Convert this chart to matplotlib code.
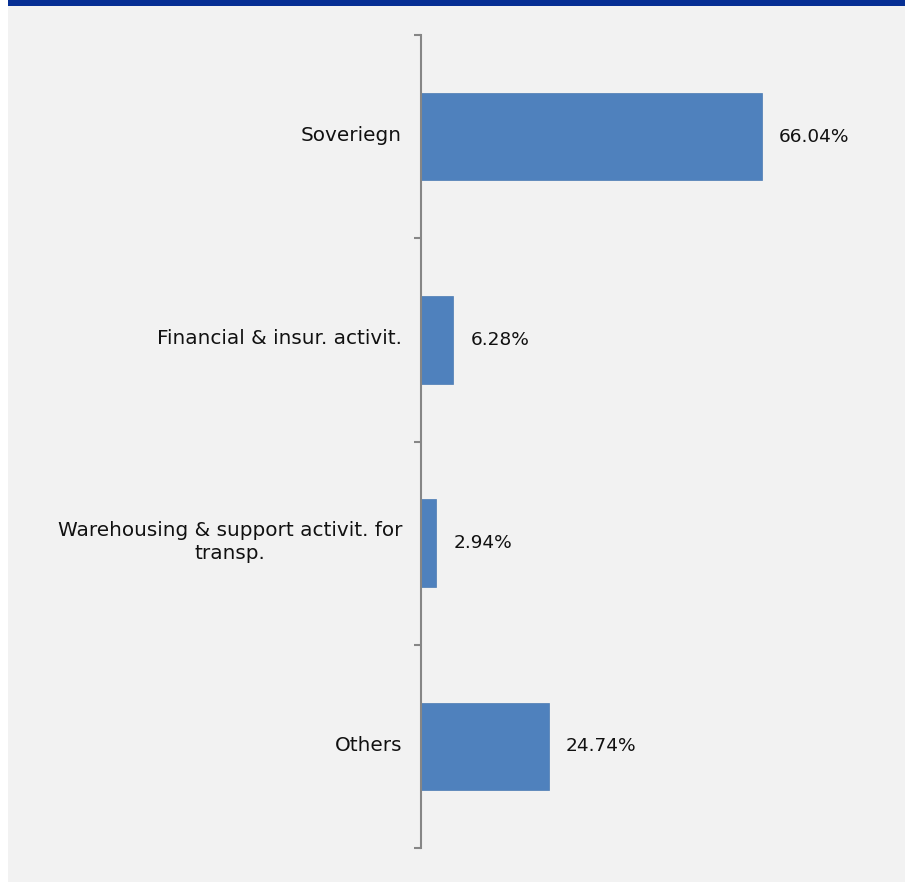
import matplotlib
matplotlib.use("Agg")
import matplotlib.pyplot as plt
from matplotlib.patches import Rectangle
from matplotlib.ticker import FixedLocator

categories = ["Soveriegn", "Financial & insur. activit.",
              "Warehousing & support activit. for\ntransp.", "Others"]
values = [66.04, 6.28, 2.94, 24.74]
value_labels = ["66.04%", "6.28%", "2.94%", "24.74%"]

W, H = 910, 882
fig = plt.figure(figsize=(W / 100, H / 100), dpi=100)
fig.patch.set_facecolor("white")

# grey panel and blue header band
fig.add_artist(Rectangle((8 / W, 0), (905 - 8) / W, 1 - 6 / H,
                         transform=fig.transFigure, facecolor="#f2f2f2",
                         edgecolor="none", zorder=0))
fig.add_artist(Rectangle((8 / W, 1 - 6 / H), (905 - 8) / W, 6 / H,
                         transform=fig.transFigure, facecolor="#062f94",
                         edgecolor="none", zorder=0))

ax_left, ax_right = 421, 905
ax_top, ax_bot = 35, 848
ax = fig.add_axes([ax_left / W, 1 - ax_bot / H, (ax_right - ax_left) / W,
                   (ax_bot - ax_top) / H])
ax.set_facecolor("none")

px_per_unit = 5.165
ax.set_xlim(0, (ax_right - ax_left) / px_per_unit)
ax.set_ylim(len(categories) - 0.5, -0.5)

pos = list(range(len(categories)))
ax.barh(pos, values, height=0.43, color="#4f81bd", edgecolor="#4a7ab3",
        linewidth=0.5, zorder=2)

font = "DejaVu Sans"
for p, v, lab in zip(pos, values, value_labels):
    ax.annotate(lab, (v, p), xytext=(17, 0), textcoords="offset pixels",
                ha="left", va="center", fontsize=13.3, family=font,
                color="#111111")

for p, c in zip(pos, categories):
    ax.annotate(c, (0, p), xytext=(-19, 1), textcoords="offset pixels",
                xycoords=("axes fraction", "data"),
                ha="right", va="center", multialignment="center",
                fontsize=14.4, family=font, color="#111111",
                linespacing=1.3)

for s in ["top", "right", "bottom"]:
    ax.spines[s].set_visible(False)
ax.spines["left"].set_color("#868686")
ax.spines["left"].set_linewidth(1.5)
ax.set_xticks([])
ax.yaxis.set_major_locator(FixedLocator([-0.5 + i for i in range(len(categories) + 1)]))
ax.set_yticklabels([])
ax.tick_params(axis="y", length=5, width=1.5, color="#868686", direction="out")

fig.savefig("out.png", dpi=100, facecolor=fig.get_facecolor())
